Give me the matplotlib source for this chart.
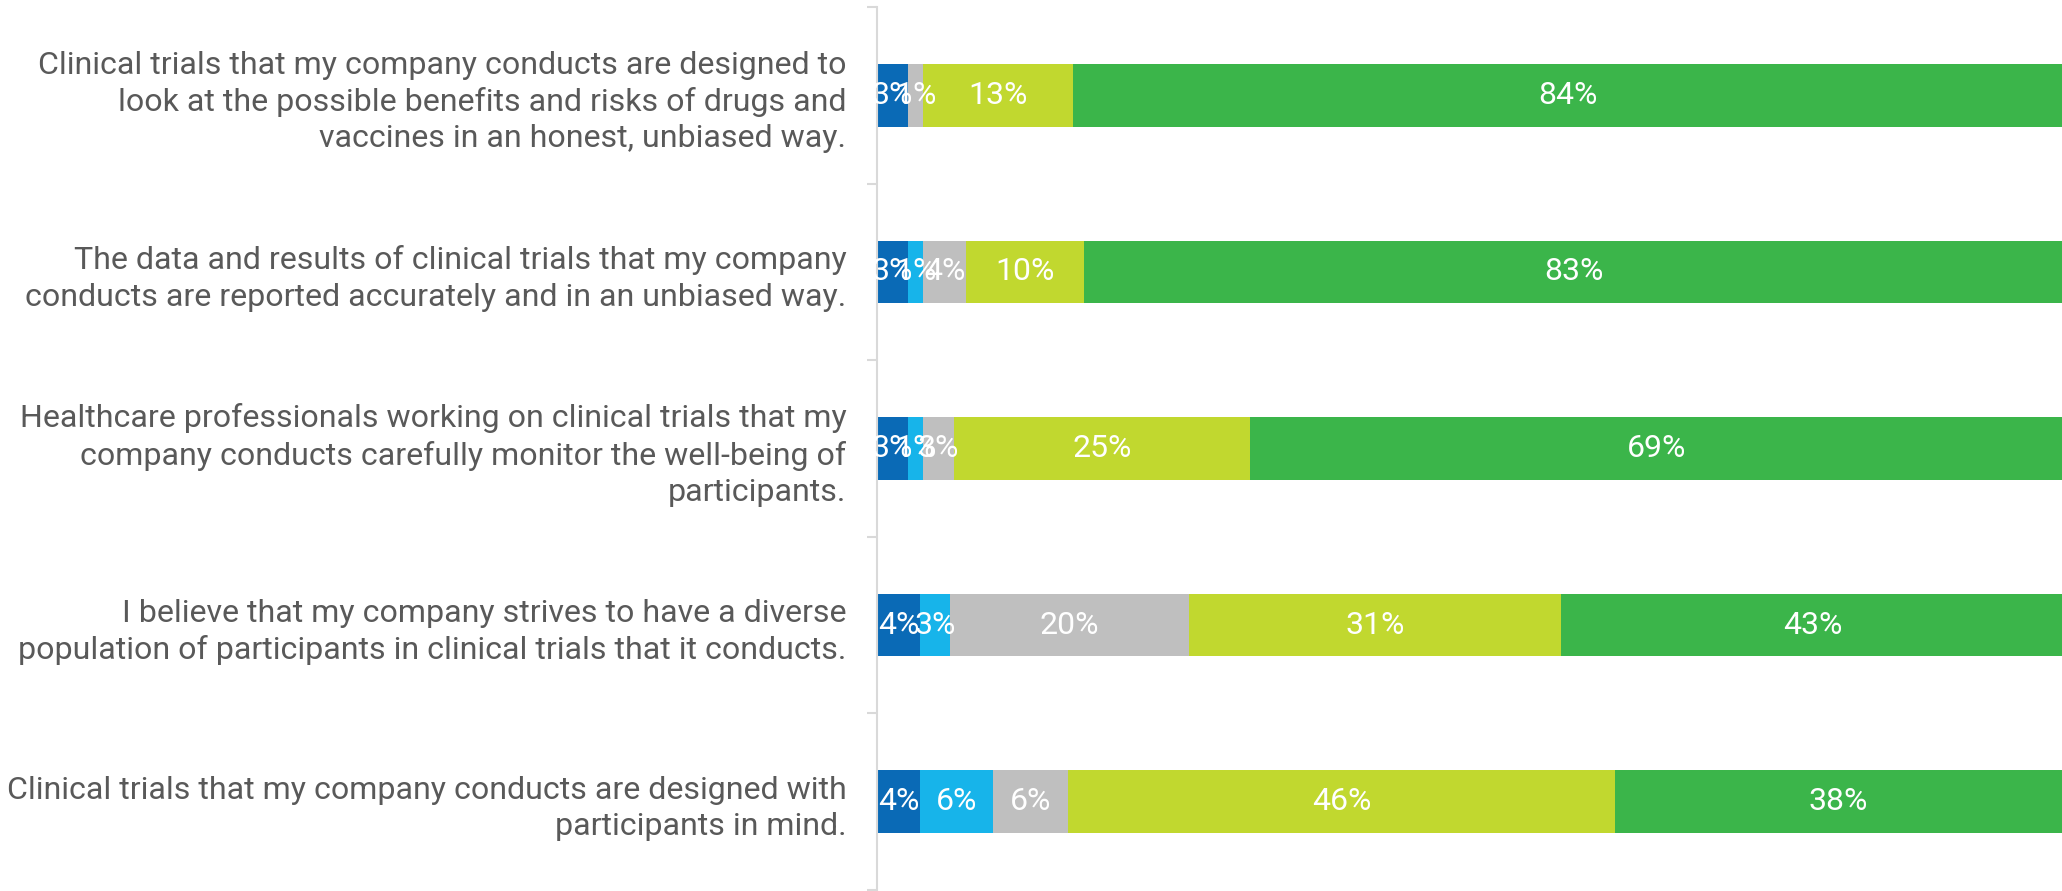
import matplotlib.pyplot as plt
import numpy as np

plt.rcParams['font.family'] = ['Roboto', 'DejaVu Sans']

statements = [
    "Clinical trials that my company conducts are designed to\nlook at the possible benefits and risks of drugs and\nvaccines in an honest, unbiased way.",
    "The data and results of clinical trials that my company\nconducts are reported accurately and in an unbiased way.",
    "Healthcare professionals working on clinical trials that my\ncompany conducts carefully monitor the well-being of\nparticipants.",
    "I believe that my company strives to have a diverse\npopulation of participants in clinical trials that it conducts.",
    "Clinical trials that my company conducts are designed with\nparticipants in mind.",
]

# shares per statement (%), from left to right segment
strongly_disagree = [2.6, 2.6, 2.6, 3.6, 3.6]
disagree = [0.0, 1.3, 1.3, 2.6, 6.2]
neutral = [1.3, 3.6, 2.6, 20.1, 6.3]
agree = [12.6, 10.0, 25.0, 31.4, 46.2]
strongly_agree = [83.6, 82.6, 68.6, 42.6, 37.7]

series = [strongly_disagree, disagree, neutral, agree, strongly_agree]
colors = ["#0a6ab6", "#17b4ea", "#bfbfbf", "#c1d82f", "#3bb54a"]

fig = plt.figure(figsize=(20.62, 8.91), dpi=100)
ax = fig.add_axes([877 / 2062, 1 / 891, 1 - 877 / 2062, 883 / 891])

y = np.arange(len(statements))
left = np.zeros(len(statements))
for vals, col in zip(series, colors):
    vals = np.array(vals)
    bars = ax.barh(y, vals, left=left, height=0.355, color=col)
    for b, v in zip(bars, vals):
        if v <= 0:
            continue
        ax.text(b.get_x() + b.get_width() / 2, b.get_y() + b.get_height() / 2,
                f"{v:.0f}%", ha="center", va="center", color="white", fontsize=23)
    left += vals

ax.set_xlim(0, 100)
ax.set_ylim(len(statements) - 0.5, -0.5)
ax.set_yticks(y)
ax.set_yticklabels(statements, fontsize=23.1, color="#595959", linespacing=1.31)
ax.set_yticks(np.arange(-0.5, len(statements)), minor=True)
ax.tick_params(axis="y", which="major", length=0, pad=22)
ax.tick_params(axis="y", which="minor", length=7, color="#d9d9d9", width=1.5)
ax.set_xticks([])
for s in ["top", "right", "bottom"]:
    ax.spines[s].set_visible(False)
ax.spines["left"].set_color("#d9d9d9")
ax.spines["left"].set_linewidth(1.5)

fig.savefig("out.png", dpi=100)
